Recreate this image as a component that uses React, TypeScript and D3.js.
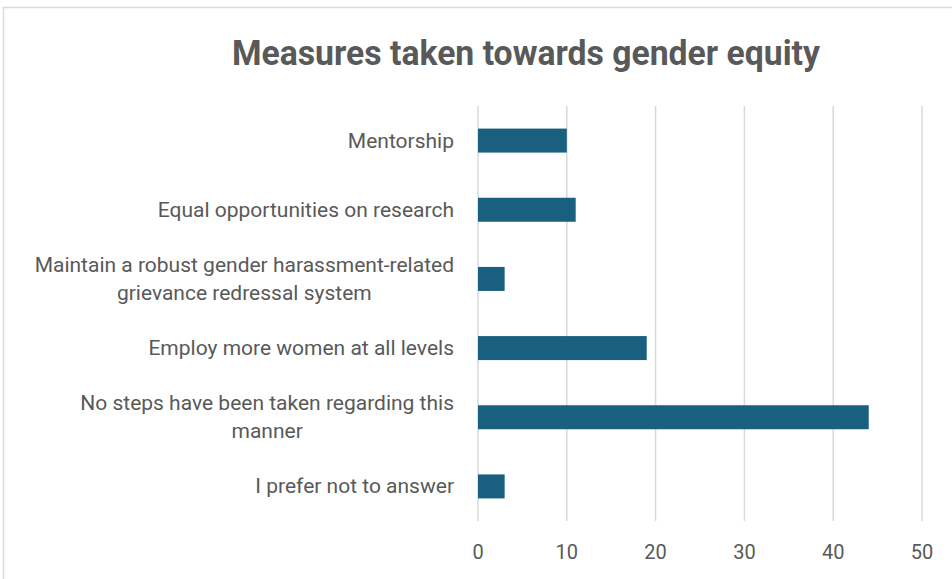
import React from "react";
import * as d3 from "d3";

const categories: string[] = [
  "Mentorship",
  "Equal opportunities on research",
  "Maintain a robust gender harassment-related\ngrievance redressal system",
  "Employ more women at all levels",
  "No steps have been taken regarding this\nmanner",
  "I prefer not to answer",
];
const values: number[] = [10, 11, 3, 19, 44, 3];
const ticks: number[] = [0, 10, 20, 30, 40, 50];
const title = "Measures taken towards gender equity";

const W = 952;
const H = 579;
const FONT = "Roboto, 'Open Sans', 'Liberation Sans', sans-serif";

export default function App() {
  const x = d3.scaleLinear().domain([0, 50]).range([478, 922]);
  const y = d3
    .scaleBand<string>()
    .domain(categories)
    .range([106, 521])
    .paddingInner(0.653)
    .paddingOuter(0.3265);
  const lineH = 28;
  return (
    <svg
      width={W}
      height={H}
      style={{ position: "absolute", left: 0, top: 0, background: "#fff" }}
    >
      <rect x={3.5} y={7.5} width={980} height={620} fill="#fff" stroke="#d9d9d9" strokeWidth={1.5} />
      <text
        x={526}
        y={65}
        textAnchor="middle"
        fontFamily={FONT}
        fontWeight={700}
        fontSize={35}
        fill="#595959"
        textLength={588}
        lengthAdjust="spacingAndGlyphs"
      >
        {title}
      </text>
      {ticks.map((t) => (
        <line
          key={"g" + t}
          x1={x(t)}
          x2={x(t)}
          y1={106}
          y2={521}
          stroke="#d9d9d9"
          strokeWidth={1.5}
        />
      ))}
      {categories.map((c, i) => (
        <rect
          key={"b" + i}
          x={x(0)}
          y={y(c)!}
          width={x(values[i]) - x(0)}
          height={y.bandwidth()}
          fill="#185f80"
        />
      ))}
      {categories.map((c, i) => {
        const lines = c.split("\n");
        const cy = y(c)! + y.bandwidth() / 2;
        const anchorX = 454;
        if (lines.length === 1) {
          return (
            <text
              key={"l" + i}
              x={anchorX}
              y={cy + 7}
              textAnchor="end"
              fontFamily={FONT}
              fontSize={21}
              fill="#595959"
            >
              {c}
            </text>
          );
        }
        return (
          <g key={"l" + i}>
            {lines.map((ln, j) => (
              <text
                key={j}
                x={anchorX}
                y={cy + 7 - ((lines.length - 1) * lineH) / 2 + j * lineH}
                textAnchor="end"
                fontFamily={FONT}
                fontSize={21}
                fill="#595959"
                ref={(el) => {
                  if (!el || j === 0) return;
                  const first = el.parentNode?.firstChild as SVGTextElement | null;
                  if (!first) return;
                  const w0 = first.getComputedTextLength();
                  const center = anchorX - w0 / 2;
                  el.setAttribute("text-anchor", "middle");
                  el.setAttribute("x", String(center));
                }}
              >
                {ln}
              </text>
            ))}
          </g>
        );
      })}
      {ticks.map((t) => (
        <text
          key={"t" + t}
          x={x(t)}
          y={559}
          textAnchor="middle"
          fontFamily={FONT}
          fontSize={20}
          fill="#595959"
        >
          {t}
        </text>
      ))}
    </svg>
  );
}
